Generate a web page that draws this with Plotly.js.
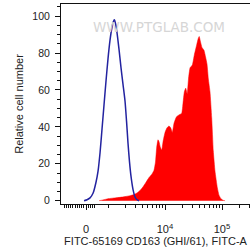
<!DOCTYPE html>
<html>
<head>
<meta charset="utf-8">
<script src="https://cdn.plot.ly/plotly-3.0.1.min.js"></script>
<style>html,body{margin:0;padding:0;background:#fff;}#chart{width:250px;height:251px;}</style>
</head>
<body>
<div id="chart"></div>
<script>
// x values are in display (biexponential) units: 10^4 -> 4, 10^5 -> 5, 0 -> 2.614
const controlX = [2.579,2.632,2.684,2.737,2.789,2.825,2.860,2.895,2.930,2.965,3.000,3.035,3.070,3.093,3.111,3.132,3.158,3.193,3.228,3.263,3.298,3.325,3.351,3.377,3.404,3.439,3.474,3.509,3.544];
const controlY = [0,0.5,1.5,4,10,16,26,39,52,65,77,87,94,97,98,96,91,82,72,63,54,43,31,21,13,6,2,0.5,0];

const stainedX = [2.842,2.895,2.965,3.035,3.123,3.211,3.298,3.386,3.456,3.509,3.561,3.614,3.667,3.719,3.772,3.807,3.833,3.854,3.877,3.895,3.918,3.942,3.965,4.000,4.035,4.070,4.100,4.128,4.158,4.202,4.246,4.293,4.316,4.339,4.363,4.389,4.412,4.439,4.479,4.514,4.556,4.584,4.600,4.623,4.649,4.684,4.711,4.737,4.760,4.789,4.819,4.847,4.877,4.918,4.947,4.982,5.018,5.053];
const stainedY = [0,0.3,0.8,1.2,1.5,1.8,2.2,2.7,3.3,4.2,5.5,7.5,10,12.5,14.5,16.5,21,29,33,32,29,27.5,32,37,39.5,40.5,39.5,37,42,45.5,46.5,47.4,53,59,61,58,66,72,73.5,79,84.5,88,89,86,83,81.5,78,74,66,59,45,27,16,7,3,1,0.2,0];

const xTickVals = [2.614, 4, 5];
const xTickText = ['0', '10<sup>4</sup>', '10<sup>5</sup>'];
const xMinorVals = [2.228,2.267,2.305,2.344,2.382,2.421,2.460,2.498,2.537,2.575,2.653,2.691,2.730,2.768,3.000,
  3.301,3.477,3.602,3.699,3.778,3.845,3.903,3.954,
  4.301,4.477,4.602,4.699,4.778,4.845,4.903,4.954,
  5.301,5.477];
const yTickVals = [0,20,40,60,80,100];

const font = 'Liberation Sans, Arial, sans-serif';

const traces = [
  {x: stainedX, y: stainedY, type: 'scatter', mode: 'lines', fill: 'tozeroy',
   fillcolor: '#ff0000', line: {color: '#ff0000', width: 0.5, shape: 'spline', smoothing: 0.4}, hoverinfo: 'skip'},
  {x: controlX, y: controlY, type: 'scatter', mode: 'lines',
   line: {color: '#2323a0', width: 1.5, shape: 'spline', smoothing: 0.6}, hoverinfo: 'skip'}
];

const layout = {
  width: 250, height: 251,
  margin: {l: 61, r: 0, t: 4, b: 47},
  paper_bgcolor: '#ffffff', plot_bgcolor: '#ffffff',
  showlegend: false,
  font: {family: font, size: 10, color: '#222'},
  xaxis: {
    range: [2.175, 5.491], showgrid: false, zeroline: false,
    showline: true, linecolor: '#111', linewidth: 1, mirror: true,
    ticks: 'outside', ticklen: 5, tickcolor: '#111', tickwidth: 1,
    tickmode: 'array', tickvals: xTickVals, ticktext: xTickText,
    tickfont: {family: font, size: 11, color: '#222'}, ticklabelstandoff: 10,
    minor: {tickmode: 'array', tickvals: xMinorVals, ticks: 'outside', ticklen: 3, tickcolor: '#111', showgrid: false},
    title: {text: 'FITC-65169 CD163 (GHI/61), FITC-A', font: {family: font, size: 11, color: '#222'}, standoff: 1}
  },
  yaxis: {
    range: [-1.8, 106.6], showgrid: false, zeroline: false,
    showline: true, linecolor: '#111', linewidth: 1,
    ticks: 'outside', ticklen: 5, tickcolor: '#111', tickwidth: 1,
    tickmode: 'array', tickvals: yTickVals,
    tickfont: {family: font, size: 10.5, color: '#222'}, ticklabelstandoff: 3,
    minor: {dtick: 5, tick0: 0, ticks: 'outside', ticklen: 3, tickcolor: '#111', showgrid: false},
    title: {text: 'Relative cell number', font: {family: font, size: 11, color: '#222'}, standoff: 6}
  },
  annotations: [
    {text: 'WWW.PTGLAB.COM', xref: 'paper', yref: 'paper', x: 0.519, y: 0.935,
     showarrow: false, font: {family: 'DejaVu Sans, sans-serif', size: 13.5, color: '#d6d6d6'}}
  ]
};

Plotly.newPlot('chart', traces, layout, {staticPlot: true, displayModeBar: false});
</script>
</body>
</html>
